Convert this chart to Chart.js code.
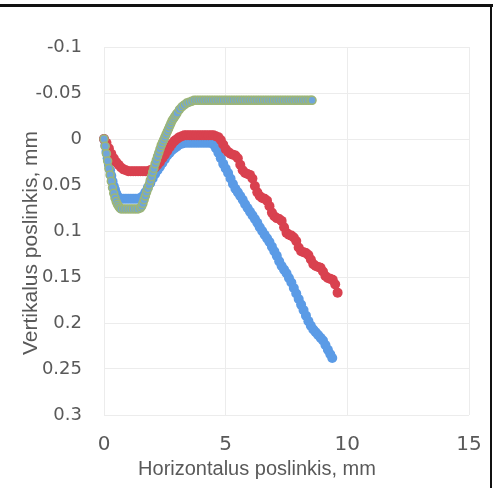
<!DOCTYPE html>
<html><head><meta charset="utf-8">
<script src="https://cdn.jsdelivr.net/npm/chart.js@4"></script>
<style>
html,body{margin:0;padding:0;background:#fff;}
#wrap{position:relative;width:493px;height:488px;overflow:hidden;}
#c{display:block;}
.bt{position:absolute;left:0;top:4px;width:493px;height:3px;background:#111;}
.br{position:absolute;left:490px;top:4px;width:2px;height:484px;background:#111;}
</style></head><body>
<div id="wrap"><canvas id="c" width="493" height="488"></canvas><div class="bt"></div><div class="br"></div></div>
<script>
const xTickLabels = ['0','5','10','15'];
const yTickLabels = ['-0.1','-0.05','0','0.05','0.1','0.15','0.2','0.25','0.3'];
const xTitle = 'Horizontalus poslinkis, mm';
const yTitle = 'Vertikalus poslinkis, mm';

const redX = [0,0.1,0.2,0.3,0.4,0.5,0.6,0.7,0.8,0.9,1.0,1.1,1.2,1.3,1.4,1.5,1.6,1.7,1.8,1.9,2.0,2.1,2.2,2.3,2.4,2.5,2.6,2.7,2.8,2.9,3.0,3.1,3.2,3.3,3.4,3.5,3.6,3.7,3.8,3.9,4.0,4.1,4.2,4.3,4.4,4.5,4.6,4.7,4.8,4.9,5.0,5.1,5.2,5.3,5.4,5.5,5.6,5.7,5.8,5.9,6.0,6.1,6.2,6.3,6.4,6.5,6.6,6.7,6.8,6.9,7.0,7.1,7.2,7.3,7.4,7.5,7.6,7.7,7.8,7.9,8.0,8.1,8.2,8.3,8.4,8.5,8.6,8.7,8.8,8.9,9.0,9.1,9.2,9.3,9.4,9.5,9.6];
const redY = [0,0.004,0.01,0.016,0.021,0.025,0.028,0.031,0.033,0.034,0.035,0.035,0.035,0.035,0.035,0.035,0.035,0.035,0.035,0.034,0.033,0.031,0.028,0.025,0.021,0.017,0.013,0.009,0.005,0.002,0,-0.002,-0.003,-0.004,-0.004,-0.004,-0.004,-0.004,-0.004,-0.004,-0.004,-0.004,-0.004,-0.004,-0.004,-0.004,-0.003,-0.002,0.001,0.006,0.011,0.014,0.016,0.017,0.018,0.021,0.028,0.034,0.037,0.038,0.039,0.043,0.051,0.058,0.062,0.064,0.065,0.067,0.073,0.08,0.084,0.086,0.087,0.089,0.096,0.102,0.104,0.105,0.107,0.111,0.118,0.122,0.123,0.124,0.126,0.131,0.136,0.138,0.139,0.14,0.144,0.149,0.151,0.152,0.153,0.158,0.167];

const blueX = [0,0.05,0.1,0.15,0.2,0.25,0.3,0.35,0.4,0.45,0.5,0.55,0.6,0.7,0.8,0.9,1.0,1.1,1.2,1.3,1.4,1.5,1.6,1.7,1.8,1.9,2.0,2.1,2.2,2.3,2.4,2.5,2.6,2.7,2.8,2.9,3.0,3.1,3.2,3.3,3.4,3.5,3.6,3.7,3.8,3.9,4.0,4.1,4.2,4.3,4.4,4.5,4.6,4.7,4.8,4.9,5.0,5.1,5.2,5.3,5.4,5.5,5.6,5.7,5.8,5.9,6.0,6.1,6.2,6.3,6.4,6.5,6.6,6.7,6.8,6.9,7.0,7.1,7.2,7.3,7.4,7.5,7.6,7.7,7.8,7.9,8.0,8.1,8.2,8.3,8.4,8.5,8.6,8.7,8.8,8.9,9.0,9.1,9.2,9.3,9.38];
const blueY = [0,0.007,0.014,0.021,0.028,0.034,0.04,0.046,0.051,0.055,0.059,0.062,0.064,0.065,0.065,0.065,0.065,0.065,0.065,0.065,0.065,0.064,0.062,0.058,0.053,0.048,0.043,0.038,0.034,0.03,0.026,0.022,0.018,0.015,0.012,0.01,0.008,0.006,0.005,0.004,0.004,0.004,0.004,0.004,0.004,0.004,0.004,0.004,0.004,0.004,0.004,0.006,0.01,0.015,0.021,0.027,0.032,0.037,0.043,0.049,0.054,0.058,0.062,0.066,0.071,0.075,0.079,0.083,0.087,0.091,0.096,0.1,0.104,0.108,0.112,0.117,0.122,0.127,0.133,0.138,0.142,0.146,0.151,0.156,0.162,0.168,0.174,0.18,0.186,0.192,0.198,0.203,0.207,0.21,0.213,0.216,0.219,0.224,0.229,0.234,0.238];

const greenX = [0,0.05,0.1,0.15,0.2,0.25,0.3,0.35,0.4,0.45,0.5,0.55,0.6,0.65,0.7,0.8,0.9,1.0,1.1,1.2,1.3,1.4,1.5,1.55,1.6,1.65,1.7,1.75,1.8,1.85,1.9,1.95,2.0,2.05,2.1,2.15,2.2,2.25,2.3,2.35,2.4,2.45,2.5,2.55,2.6,2.65,2.7,2.75,2.8,2.85,2.9,2.95,3.0,3.1,3.2,3.3,3.4,3.5,3.6,3.7,3.8,3.9,4.0,4.1,4.2,4.3,4.4,4.5,4.6,4.7,4.8,4.9,5.0,5.1,5.2,5.3,5.4,5.5,5.6,5.7,5.8,5.9,6.0,6.1,6.2,6.3,6.4,6.5,6.6,6.7,6.8,6.9,7.0,7.1,7.2,7.3,7.4,7.5,7.6,7.7,7.8,7.9,8.0,8.1,8.2,8.3,8.4,8.5,8.55];
const greenY = [0,0.008,0.016,0.024,0.032,0.039,0.046,0.053,0.059,0.064,0.068,0.071,0.073,0.075,0.076,0.076,0.076,0.076,0.076,0.076,0.076,0.076,0.075,0.073,0.07,0.066,0.062,0.058,0.054,0.05,0.045,0.041,0.036,0.032,0.027,0.023,0.019,0.015,0.011,0.007,0.004,0.001,-0.002,-0.005,-0.008,-0.011,-0.014,-0.017,-0.02,-0.022,-0.024,-0.026,-0.028,-0.032,-0.035,-0.037,-0.039,-0.04,-0.041,-0.042,-0.042,-0.042,-0.042,-0.042,-0.042,-0.042,-0.042,-0.042,-0.042,-0.042,-0.042,-0.042,-0.042,-0.042,-0.042,-0.042,-0.042,-0.042,-0.042,-0.042,-0.042,-0.042,-0.042,-0.042,-0.042,-0.042,-0.042,-0.042,-0.042,-0.042,-0.042,-0.042,-0.042,-0.042,-0.042,-0.042,-0.042,-0.042,-0.042,-0.042,-0.042,-0.042,-0.042,-0.042,-0.042,-0.042,-0.042,-0.042,-0.042];

const pts = (xs, ys) => xs.map((x, i) => ({x: x, y: ys[i]}));

const axisTitles = {
  id: 'axisTitles',
  afterDraw(chart) {
    const ctx = chart.ctx;
    ctx.save();
    ctx.fillStyle = '#595959';
    ctx.textAlign = 'center';
    ctx.textBaseline = 'middle';
    ctx.font = '20px "Liberation Sans"';
    ctx.fillText(xTitle, 257, 469);
    ctx.translate(31, 243);
    ctx.rotate(-Math.PI / 2);
    ctx.font = '21px "Liberation Sans"';
    ctx.fillText(yTitle, 0, 0);
    ctx.restore();
  }
};

new Chart(document.getElementById('c'), {
  type: 'scatter',
  data: {
    datasets: [
      {label: 'B', data: pts(greenX, greenY), pointRadius: 4, pointBorderWidth: 1.5,
       pointBackgroundColor: '#6FA5DA', pointBorderColor: '#9DB677', showLine: false, clip: false, order: 1},
      {label: 'R', data: pts(redX, redY), pointRadius: 5, pointBorderWidth: 0,
       pointBackgroundColor: '#D9414F', pointBorderColor: '#D9414F', showLine: false, clip: false, order: 2},
      {label: 'A', data: pts(blueX, blueY), pointRadius: 5, pointBorderWidth: 0,
       pointBackgroundColor: '#5B9BE6', pointBorderColor: '#5B9BE6', showLine: false, clip: false, order: 3}
    ]
  },
  options: {
    responsive: false, animation: false, devicePixelRatio: 1,
    layout: {padding: {top: 47, right: 24, bottom: 0, left: 0}},
    plugins: {legend: {display: false}, tooltip: {enabled: false}},
    scales: {
      x: {
        type: 'linear', min: 0, max: 15,
        afterBuildTicks: s => { s.ticks = xTickLabels.map(v => ({value: parseFloat(v)})); },
        afterFit: s => { s.height = 73; },
        grid: {color: '#ececec', drawTicks: true, tickLength: 18, tickColor: 'rgba(0,0,0,0)'},
        border: {display: false},
        ticks: {padding: 0, color: '#595959', autoSkip: false, maxRotation: 0,
          font: {family: 'DejaVu Sans', size: 20},
          callback: (v, i) => xTickLabels[i]}
      },
      y: {
        type: 'linear', reverse: true, min: -0.1, max: 0.3,
        afterBuildTicks: s => { s.ticks = yTickLabels.map(v => ({value: parseFloat(v)})); },
        afterFit: s => { s.width = 104; },
        grid: {color: '#ececec', drawTicks: false},
        border: {display: false},
        ticks: {padding: 22, color: '#595959', autoSkip: false,
          font: {family: 'DejaVu Sans', size: 18},
          callback: (v, i) => yTickLabels[i]}
      }
    }
  },
  plugins: [axisTitles]
});
</script>
</body></html>
